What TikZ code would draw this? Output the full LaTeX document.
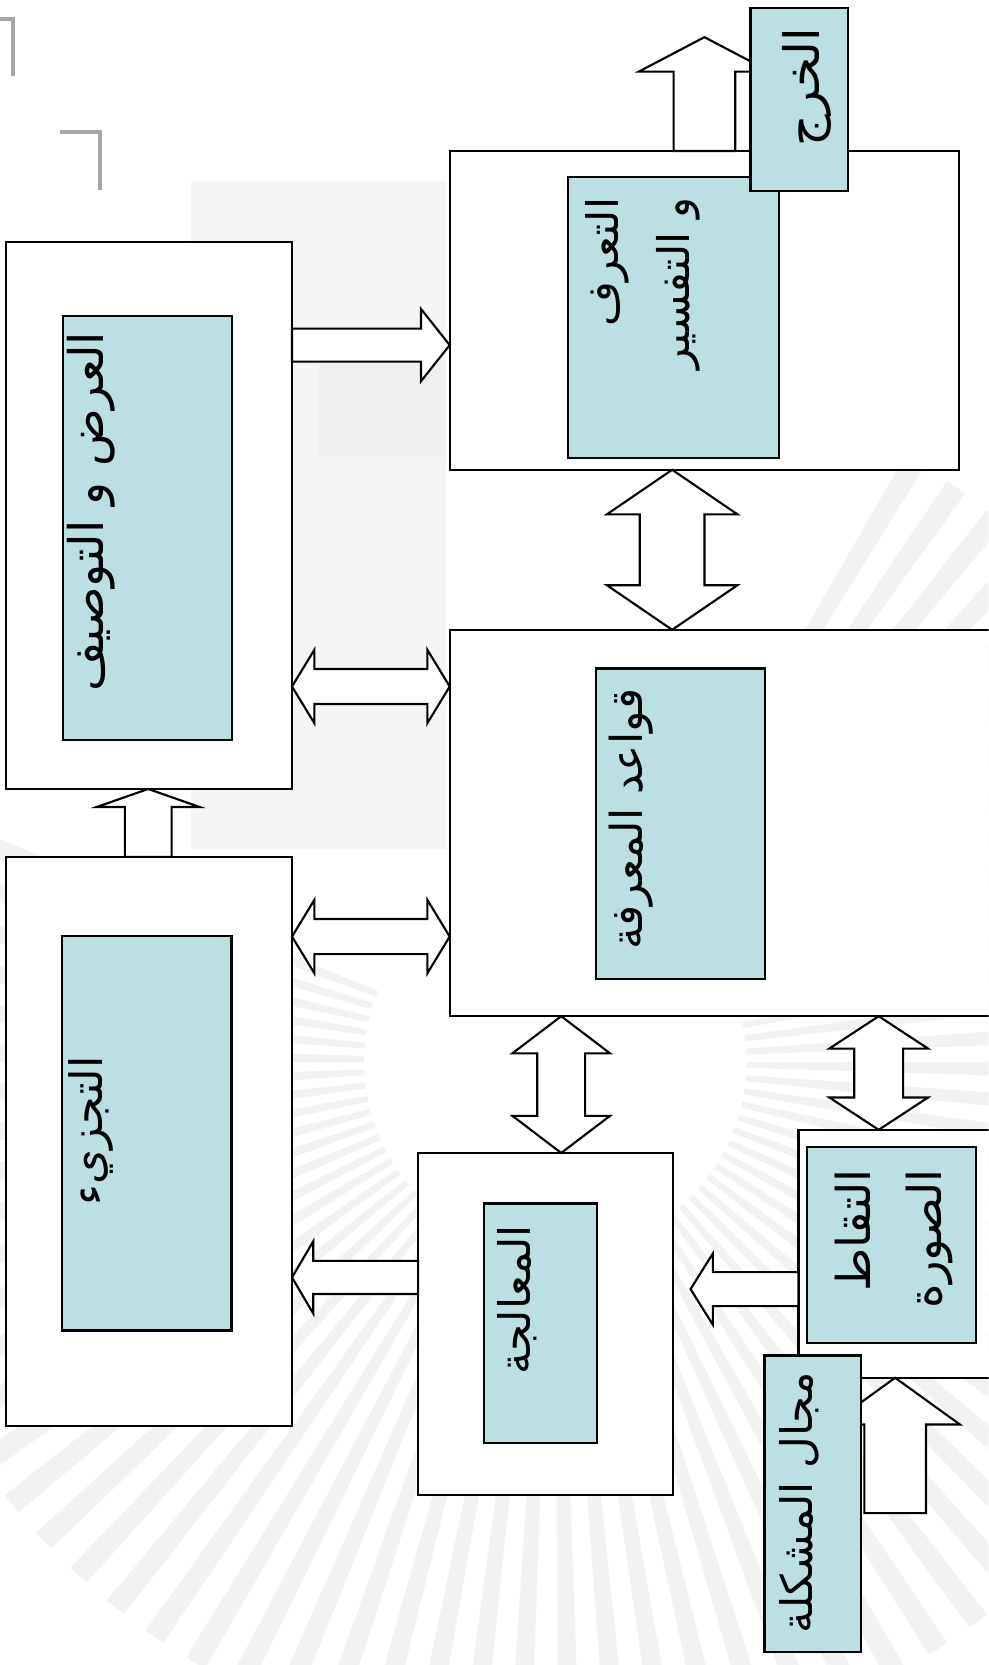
\documentclass[tikz,border=0pt]{standalone}
\usepackage{fontspec}
\newfontfamily\arabicfont[Script=Arabic]{DejaVu Sans}
\TeXXeTstate=1
\usetikzlibrary{calc}
\definecolor{tealbox}{HTML}{BBDFE3}
\tikzset{
  outerbox/.style={draw=black, line width=2pt, fill=white, inner sep=0pt, outer sep=0pt, anchor=north west},
  innerbox/.style={draw=black, line width=2pt, fill=tealbox, inner sep=0pt, outer sep=0pt, anchor=north west},
  arrowshape/.style={draw=black, line width=2pt, fill=white, line join=miter},
  lbl/.style={rotate=90, inner sep=0pt, align=right, font=\arabicfont\fontsize{#1}{67}\selectfont},
  lbl/.default=42,
  fanray/.style={fill=black!5},
  cornermark/.style={line width=4pt, draw=black!35},
}
% single block arrow: #1 name, #2 tail, #3 tip, #4 shaft half width, #5 head half width, #6 head length
\newcommand\blkarrow[6]{%
  \coordinate (#1-c) at ($(#3)!#6pt!(#2)$);
  \draw[arrowshape] ($(#2)!#4pt!90:(#3)$) -- ($(#1-c)!#4pt!90:(#3)$) -- ($(#1-c)!#5pt!90:(#3)$) -- (#3)
    -- ($(#1-c)!#5pt!-90:(#3)$) -- ($(#1-c)!#4pt!-90:(#3)$) -- ($(#2)!#4pt!-90:(#3)$) -- cycle;
}
% double block arrow
\newcommand\dblarrow[6]{%
  \coordinate (#1-p) at ($(#2)!#6pt!(#3)$);
  \coordinate (#1-q) at ($(#3)!#6pt!(#2)$);
  \draw[arrowshape] (#2) -- ($(#1-p)!#5pt!90:(#3)$) -- ($(#1-p)!#4pt!90:(#3)$) -- ($(#1-q)!#4pt!90:(#3)$)
    -- ($(#1-q)!#5pt!90:(#3)$) -- (#3) -- ($(#1-q)!#5pt!-90:(#3)$) -- ($(#1-q)!#4pt!-90:(#3)$)
    -- ($(#1-p)!#4pt!-90:(#3)$) -- ($(#1-p)!#5pt!-90:(#3)$) -- cycle;
}
\begin{document}
\begin{tikzpicture}[x=1pt,y=-1pt]
\useasboundingbox (0,0) rectangle (931,1568);
\clip (0,0) rectangle (931,1568);
% faint background
\fill[black!4] (180,170) rectangle (420,800);
\fill[black!6] (300,340) rectangle (420,430);
\begin{scope}[shift={(523,1000)}]
  \foreach \a in {-60,-56,...,200} {
    \fill[fanray] (\a:180) -- (\a:660) -- (\a+1.8:660) -- (\a+1.8:180) -- cycle;
  }
\end{scope}
% corner marks
\draw[cornermark] (0,18) -- (12.5,18) -- (12.5,72);
\draw[cornermark] (56.5,124.5) -- (94.5,124.5) -- (94.5,179);
% outer boxes
\node[outerbox, minimum width=269.5pt, minimum height=515pt] (disp) at (5.5,228) {};
\node[outerbox, minimum width=269.5pt, minimum height=536pt] (seg) at (5.5,807) {};
\node[outerbox, minimum width=479.3pt, minimum height=300.2pt] (recog) at (423.5,142.2) {};
\node[outerbox, minimum width=530pt, minimum height=363.9pt] (kb) at (423.5,593.1) {};
\node[outerbox, minimum width=239.9pt, minimum height=322pt] (proc) at (393.8,1085.8) {};
\node[outerbox, minimum width=200pt, minimum height=233.5pt] (cap) at (752,1064) {};
% inner boxes
\node[innerbox, minimum width=159.6pt, minimum height=398.6pt] (dispin) at (59,298) {};
\node[innerbox, minimum width=159.5pt, minimum height=371.5pt] (segin) at (58.5,881.5) {};
\node[innerbox, minimum width=199.5pt, minimum height=265.1pt] (recogin) at (534.5,166.3) {};
\node[innerbox, minimum width=159.2pt, minimum height=292.5pt] (kbin) at (561.2,629.5) {};
\node[innerbox, minimum width=106.2pt, minimum height=225.3pt] (procin) at (455.6,1133.4) {};
\node[innerbox, minimum width=159pt, minimum height=185pt] (capin) at (760,1080) {};
% texts
\node[lbl=45] (tdisp) at (86,482) {\beginR العرض و التوصيف\endR};
\node[lbl=42] (tseg) at (86,1065) {\beginR التجزيء\endR};
\node[lbl=41, anchor=east] (trecog) at (605,186) {\beginR التعرف\endR\\\beginR و التفسير\endR};
\node[lbl=41.5] (tkb) at (594,771.6) {\beginR قواعد المعرفة\endR};
\node[lbl=41] (tproc) at (487,1224) {\beginR المعالجة\endR};
\node[lbl=44, anchor=east] (tcap) at (842,1101) {\beginR التقاط\endR\\\beginR الصورة\endR};
% connectors
\coordinate (a1s) at (disp.east |- 0,325);
\coordinate (a1e) at (recog.west |- 0,325);
\blkarrow{a1}{a1s}{a1e}{15.5}{34}{27}
\coordinate (a2s) at (disp.east |- 0,646.5);
\coordinate (a2e) at (kb.west |- 0,646.5);
\dblarrow{a2}{a2s}{a2e}{16.5}{34.5}{21}
\coordinate (a3s) at (seg.east |- 0,882);
\coordinate (a3e) at (kb.west |- 0,882);
\dblarrow{a3}{a3s}{a3e}{16.5}{34.5}{21}
\coordinate (a4s) at (recog.south -| 633,0);
\coordinate (a4e) at (kb.north -| 633,0);
\dblarrow{a4}{a4s}{a4e}{30.5}{61.5}{42}
\coordinate (a5s) at (kb.south -| 528.5,0);
\coordinate (a5e) at (proc.north -| 528.5,0);
\dblarrow{a5}{a5s}{a5e}{22.5}{46}{35}
\coordinate (a6s) at (kb.south -| 827.5,0);
\coordinate (a6e) at (cap.north -| 827.5,0);
\dblarrow{a6}{a6s}{a6e}{23}{46.5}{30.5}
\coordinate (a7s) at (cap.west |- 0,1214);
\coordinate (a7e) at (650.3,1214);
\blkarrow{a7}{a7s}{a7e}{16}{33.5}{21}
\coordinate (a8s) at (proc.west |- 0,1203);
\coordinate (a8e) at (seg.east |- 0,1203);
\blkarrow{a8}{a8s}{a8e}{15.6}{34}{20}
\coordinate (a9s) at (seg.north -| 139.6,0);
\coordinate (a9e) at (disp.south -| 139.6,0);
\blkarrow{a9}{a9s}{a9e}{22}{48.5}{17}
\coordinate (a10s) at (recog.north -| 663.4,0);
\coordinate (a10e) at (663.4,35);
\blkarrow{a10}{a10s}{a10e}{29}{61.7}{32.4}
\coordinate (a11s) at (843,1425);
\coordinate (a11e) at (cap.south -| 843,0);
\blkarrow{a11}{a11s}{a11e}{29}{61}{44}
% label boxes on top
\node[innerbox, minimum width=92pt, minimum height=171.7pt] (out) at (706.8,7.8) {};
\node[lbl=46] (tout) at (760,82) {\beginR الخرج\endR};
\node[innerbox, minimum width=91pt, minimum height=279.5pt] (dom) at (720,1276.5) {};
\node[lbl=41] (tdom) at (753,1415) {\beginR مجال المشكلة\endR};
\end{tikzpicture}
\end{document}
